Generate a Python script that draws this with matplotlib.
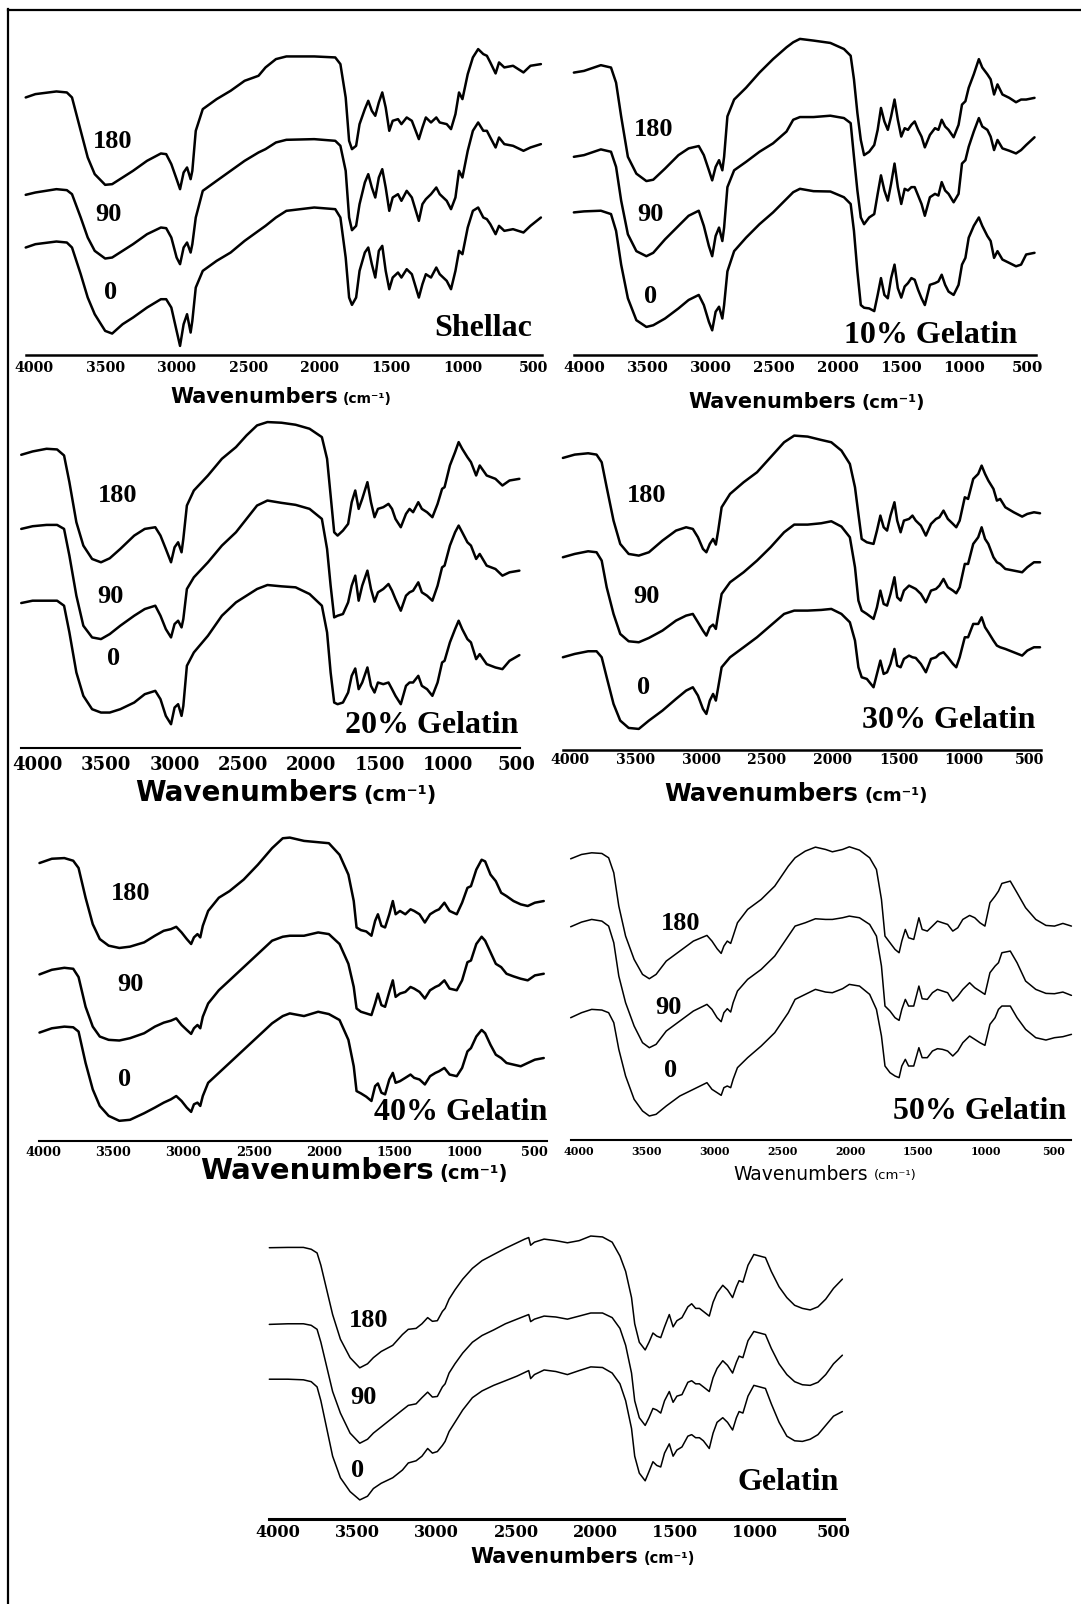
import matplotlib
matplotlib.use("Agg")
import matplotlib.pyplot as plt
from matplotlib.lines import Line2D
from matplotlib.offsetbox import TextArea, HPacker, AnnotationBbox

W, H = 1081, 1604
fig = plt.figure(figsize=(W / 100, H / 100), dpi=100)

# FTIR spectra, transmittance in arbitrary units (stacked traces, days 180 / 90 / 0)
wn_shellac = [4056, 3988, 3841, 3768, 3732, 3671, 3622, 3573, 3500, 3451,
              3378, 3305, 3207, 3110, 3073, 3037, 3000, 2976, 2951, 2927,
              2902, 2890, 2866, 2817, 2720, 2622, 2524, 2427, 2378, 2305,
              2232, 2037, 1890, 1854, 1817, 1793, 1773, 1744, 1720, 1683,
              1659, 1634, 1610, 1585, 1561, 1537, 1512, 1488, 1451, 1427,
              1390, 1354, 1305, 1280, 1256, 1220, 1183, 1159, 1110, 1080,
              1049, 1024, 1000, 963, 927, 890, 854, 829, 805, 768,
              744, 707, 646, 573, 524, 451]
shellac_180 = [772, 782, 790, 787, 772, 672, 592, 542, 510, 512,
               532, 552, 582, 604, 602, 572, 527, 497, 547, 562,
               527, 552, 672, 737, 767, 792, 822, 837, 862, 887,
               895, 895, 892, 872, 772, 642, 617, 627, 692, 737,
               762, 732, 717, 757, 787, 742, 672, 702, 707, 692,
               712, 702, 647, 682, 712, 697, 712, 697, 692, 677,
               722, 787, 767, 842, 892, 917, 902, 897, 877, 844,
               877, 862, 867, 847, 867, 872]
shellac_90 = [480, 487, 497, 494, 482, 412, 352, 312, 289, 292,
              312, 332, 362, 382, 380, 352, 292, 272, 322, 337,
              307, 332, 412, 492, 522, 552, 582, 607, 617, 637,
              645, 647, 642, 627, 552, 412, 374, 387, 452, 517,
              542, 502, 472, 532, 557, 502, 432, 472, 482, 462,
              492, 472, 402, 452, 467, 482, 502, 482, 462, 437,
              472, 552, 532, 612, 672, 697, 672, 672, 652, 622,
              652, 632, 627, 612, 622, 632]
shellac_0 = [322, 332, 340, 337, 322, 242, 172, 122, 72, 64,
             92, 112, 142, 167, 167, 142, 72, 27, 92, 122,
             67, 102, 202, 252, 282, 307, 342, 372, 387, 412,
             432, 442, 437, 412, 292, 172, 150, 172, 252, 307,
             322, 272, 232, 312, 327, 252, 197, 232, 247, 232,
             257, 242, 172, 212, 242, 232, 262, 242, 222, 197,
             252, 312, 302, 382, 432, 442, 412, 407, 392, 362,
             387, 372, 377, 367, 387, 412]

wn_g10 = [4080, 4000, 3867, 3787, 3747, 3707, 3654, 3587, 3508, 3454,
          3361, 3255, 3175, 3095, 3055, 3015, 2989, 2962, 2935, 2909,
          2895, 2869, 2816, 2722, 2616, 2509, 2403, 2350, 2297, 2190,
          2057, 1950, 1897, 1871, 1844, 1817, 1791, 1751, 1711, 1684,
          1658, 1631, 1604, 1578, 1551, 1525, 1498, 1471, 1445, 1418,
          1392, 1365, 1338, 1312, 1272, 1232, 1205, 1179, 1152, 1125,
          1085, 1046, 1019, 992, 966, 926, 886, 859, 819, 793,
          766, 739, 700, 646, 593, 553, 513, 447]
g10_180 = [838, 843, 860, 853, 808, 708, 588, 538, 516, 520,
           553, 593, 613, 620, 593, 548, 518, 558, 578, 548,
           588, 708, 758, 793, 838, 878, 913, 928, 938, 933,
           926, 908, 888, 818, 718, 638, 593, 603, 623, 668,
           733, 693, 668, 708, 758, 698, 648, 673, 668, 683,
           693, 668, 648, 616, 653, 673, 668, 698, 678, 668,
           646, 683, 743, 753, 793, 833, 878, 853, 833, 818,
           773, 803, 773, 763, 750, 758, 758, 763]
g10_90 = [588, 593, 610, 603, 558, 458, 358, 308, 293, 303,
          343, 383, 413, 428, 383, 323, 293, 353, 378, 338,
          378, 498, 548, 573, 603, 628, 663, 698, 706, 706,
          710, 703, 688, 588, 488, 408, 388, 408, 418, 478,
          533, 488, 458, 508, 568, 498, 448, 493, 488, 498,
          498, 473, 448, 413, 468, 478, 473, 513, 488, 478,
          453, 478, 568, 578, 618, 663, 703, 678, 668, 648,
          608, 638, 613, 606, 598, 608, 623, 646]
g10_0 = [423, 426, 428, 418, 368, 268, 168, 103, 83, 88,
         108, 138, 163, 178, 148, 98, 73, 128, 143, 108,
         148, 248, 308, 348, 388, 423, 463, 483, 493, 486,
         485, 468, 448, 368, 248, 148, 140, 138, 130, 178,
         228, 178, 168, 228, 268, 198, 170, 203, 213, 228,
         223, 193, 168, 148, 208, 213, 218, 238, 208, 188,
         178, 208, 268, 288, 348, 383, 408, 383, 353, 338,
         288, 308, 283, 273, 263, 268, 298, 303]

wn_g20 = [4121, 4038, 3936, 3859, 3808, 3769, 3718, 3667, 3603, 3538,
          3474, 3397, 3295, 3218, 3141, 3103, 3064, 3026, 3000, 2974,
          2949, 2936, 2910, 2859, 2756, 2654, 2551, 2474, 2397, 2321,
          2218, 2115, 2013, 1923, 1885, 1859, 1833, 1808, 1769, 1731,
          1705, 1679, 1654, 1628, 1590, 1564, 1538, 1513, 1474, 1436,
          1410, 1385, 1346, 1308, 1282, 1256, 1218, 1192, 1154, 1115,
          1077, 1044, 1026, 987, 949, 923, 897, 859, 833, 795,
          769, 718, 654, 603, 551, 479]
g20_180 = [877, 887, 895, 893, 875, 795, 675, 605, 565, 555,
           567, 595, 635, 655, 660, 635, 595, 555, 600, 615,
           585, 625, 725, 770, 815, 865, 900, 935, 965, 975,
           973, 967, 955, 930, 865, 755, 645, 635, 650, 670,
           735, 770, 715, 745, 795, 735, 690, 715, 720, 730,
           715, 685, 660, 700, 715, 705, 735, 715, 705, 690,
           730, 775, 780, 845, 885, 915, 895, 870, 855, 815,
           845, 815, 805, 785, 800, 805]
g20_90 = [655, 663, 667, 667, 655, 575, 455, 365, 330, 325,
          340, 365, 395, 415, 425, 395, 355, 330, 370, 380,
          360, 385, 475, 510, 555, 605, 645, 685, 725, 740,
          733, 727, 715, 685, 595, 485, 390, 395, 400, 435,
          485, 515, 440, 485, 530, 475, 437, 465, 475, 490,
          470, 445, 410, 455, 465, 470, 495, 465, 455, 440,
          485, 540, 545, 605, 645, 665, 645, 615, 605, 565,
          580, 545, 535, 515, 525, 530]
g20_0 = [433, 440, 440, 440, 425, 345, 225, 155, 115, 105,
         105, 115, 135, 160, 170, 145, 95, 70, 120, 130,
         95, 125, 245, 285, 335, 395, 435, 455, 475, 487,
         483, 480, 460, 425, 345, 225, 135, 130, 135, 165,
         215, 237, 175, 195, 240, 185, 165, 195, 190, 195,
         175, 155, 130, 185, 195, 195, 215, 185, 175, 155,
         195, 255, 260, 315, 355, 380, 355, 325, 315, 265,
         280, 250, 240, 235, 260, 277]

wn_g30 = [4051, 3961, 3859, 3795, 3756, 3718, 3666, 3615, 3551, 3474,
          3397, 3294, 3191, 3114, 3063, 3024, 2986, 2960, 2934, 2909,
          2888, 2870, 2844, 2780, 2677, 2575, 2472, 2369, 2292, 2190,
          2087, 2010, 1933, 1869, 1830, 1804, 1779, 1740, 1689, 1663,
          1637, 1612, 1586, 1560, 1530, 1509, 1483, 1458, 1419, 1393,
          1368, 1329, 1291, 1252, 1214, 1188, 1157, 1124, 1085, 1060,
          1034, 995, 970, 931, 893, 867, 841, 816, 777, 751,
          726, 687, 623, 559, 520, 469, 423]
g30_180 = [875, 885, 889, 885, 862, 787, 687, 617, 587, 582,
           592, 627, 657, 667, 662, 637, 602, 592, 617, 632,
           615, 657, 727, 767, 802, 832, 877, 922, 942, 939,
           929, 922, 897, 857, 787, 707, 632, 622, 617, 657,
           702, 667, 657, 702, 742, 687, 652, 687, 692, 702,
           687, 672, 642, 677, 692, 697, 717, 692, 677, 667,
           687, 757, 752, 812, 827, 852, 827, 807, 782, 747,
           752, 727, 712, 699, 707, 712, 709]
g30_90 = [577, 587, 595, 592, 567, 487, 407, 347, 325, 322,
          335, 357, 387, 402, 407, 382, 357, 342, 367, 375,
          362, 407, 467, 502, 532, 567, 607, 652, 675, 675,
          679, 685, 669, 637, 547, 447, 417, 407, 392, 427,
          477, 437, 432, 467, 517, 457, 447, 477, 492, 487,
          482, 467, 442, 477, 482, 492, 512, 487, 477, 469,
          487, 557, 557, 617, 637, 667, 632, 617, 577, 562,
          557, 542, 537, 532, 547, 562, 562]
g30_0 = [277, 287, 295, 295, 277, 217, 137, 87, 65, 62,
         87, 117, 152, 177, 187, 162, 122, 107, 147, 167,
         147, 187, 247, 277, 307, 337, 372, 407, 417, 417,
         419, 422, 407, 382, 327, 247, 217, 212, 187, 227,
         267, 227, 232, 257, 302, 252, 247, 272, 282, 277,
         275, 257, 232, 272, 277, 287, 292, 277, 257, 247,
         277, 337, 337, 377, 377, 397, 367, 352, 327, 312,
         307, 302, 292, 282, 297, 307, 307]

wn_g40 = [4025, 3937, 3848, 3785, 3747, 3697, 3646, 3596, 3533, 3457,
          3381, 3280, 3204, 3141, 3090, 3052, 3014, 2977, 2946, 2926,
          2901, 2881, 2863, 2825, 2749, 2673, 2572, 2471, 2370, 2294,
          2244, 2143, 2042, 1966, 1890, 1827, 1789, 1769, 1738, 1700,
          1663, 1637, 1617, 1592, 1566, 1536, 1511, 1491, 1460, 1422,
          1385, 1359, 1321, 1283, 1246, 1208, 1182, 1144, 1107, 1056,
          1018, 980, 955, 917, 879, 854, 816, 778, 740, 702,
          652, 601, 551, 500, 437]
g40_180 = [842, 855, 857, 849, 827, 737, 657, 612, 592, 585,
           589, 602, 622, 637, 642, 649, 632, 612, 597, 617,
           627, 617, 652, 697, 737, 757, 792, 837, 887, 917,
           919, 909, 905, 902, 867, 807, 727, 647, 639, 635,
           622, 667, 687, 652, 647, 687, 727, 687, 697, 687,
           702, 697, 687, 662, 687, 697, 702, 722, 697, 687,
           722, 767, 772, 822, 852, 847, 807, 787, 752, 742,
           727, 717, 712, 722, 727]
g40_90 = [505, 519, 525, 522, 497, 407, 347, 317, 307, 305,
          312, 327, 347, 359, 365, 372, 352, 337, 325, 342,
          352, 342, 377, 417, 457, 487, 527, 567, 607, 619,
          622, 622, 632, 627, 597, 537, 467, 402, 392, 387,
          382, 417, 447, 412, 407, 452, 487, 437, 447, 452,
          467, 462, 452, 432, 457, 467, 472, 487, 462, 457,
          487, 542, 547, 597, 619, 607, 572, 537, 527, 507,
          499, 492, 487, 502, 507]
g40_0 = [329, 342, 347, 345, 332, 237, 157, 107, 77, 62,
         65, 85, 102, 117, 127, 137, 122, 102, 89, 112,
         117, 107, 137, 177, 207, 237, 277, 317, 357, 379,
         387, 379, 392, 385, 367, 307, 227, 152, 145, 135,
         122, 167, 175, 147, 142, 187, 207, 177, 182, 192,
         202, 192, 187, 172, 197, 207, 212, 222, 202, 197,
         222, 272, 282, 317, 337, 327, 292, 262, 252, 237,
         232, 227, 237, 247, 252]

wn_g50 = [4060, 3980, 3905, 3830, 3780, 3742, 3705, 3655, 3592, 3530,
          3480, 3430, 3355, 3255, 3155, 3055, 3018, 2980, 2950, 2930,
          2905, 2880, 2862, 2830, 2755, 2655, 2555, 2455, 2405, 2330,
          2255, 2180, 2130, 2055, 2005, 1930, 1855, 1805, 1768, 1742,
          1705, 1668, 1638, 1618, 1592, 1568, 1530, 1492, 1468, 1430,
          1392, 1355, 1318, 1280, 1242, 1205, 1168, 1118, 1080, 1042,
          1005, 968, 930, 905, 880, 818, 768, 705, 630, 555,
          492, 430, 367]
g50_180 = [845, 858, 863, 861, 848, 803, 703, 613, 543, 498,
           485, 498, 538, 568, 598, 615, 598, 575, 561, 583,
           598, 591, 613, 653, 693, 723, 763, 823, 848, 868,
           880, 873, 866, 873, 881, 871, 848, 813, 723, 613,
           593, 573, 563, 598, 633, 608, 603, 668, 633, 628,
           643, 658, 653, 648, 628, 638, 663, 675, 668, 653,
           643, 713, 733, 748, 771, 778, 743, 698, 663, 645,
           643, 651, 643]
g50_90 = [641, 655, 663, 658, 643, 593, 493, 413, 343, 293,
          278, 288, 328, 358, 388, 408, 393, 368, 356, 383,
          395, 385, 413, 448, 483, 513, 553, 613, 643, 653,
          665, 663, 663, 668, 673, 668, 648, 613, 523, 403,
          388, 368, 360, 393, 423, 403, 403, 463, 425, 423,
          443, 453, 448, 443, 418, 433, 453, 473, 458, 448,
          438, 503, 523, 533, 563, 568, 533, 478, 453, 441,
          440, 445, 435]
g50_0 = [368, 383, 393, 391, 383, 353, 273, 193, 123, 88,
         73, 78, 103, 133, 153, 173, 153, 143, 135, 158,
         163, 158, 183, 218, 248, 283, 323, 383, 423, 438,
         453, 445, 443, 455, 468, 463, 438, 393, 313, 223,
         203, 193, 188, 223, 243, 223, 223, 278, 248, 248,
         268, 275, 273, 268, 253, 268, 293, 313, 303, 293,
         285, 348, 368, 393, 403, 403, 368, 333, 308, 301,
         308, 311, 318]

wn_gel = [4056, 3939, 3841, 3792, 3755, 3731, 3694, 3657, 3608, 3547,
          3486, 3437, 3400, 3351, 3278, 3217, 3180, 3131, 3094, 3058,
          3028, 2997, 2965, 2948, 2923, 2886, 2837, 2776, 2715, 2642,
          2568, 2495, 2446, 2421, 2409, 2385, 2324, 2250, 2177, 2103,
          2030, 1956, 1895, 1846, 1810, 1773, 1753, 1724, 1687, 1663,
          1638, 1614, 1589, 1565, 1535, 1511, 1487, 1455, 1418, 1394,
          1369, 1345, 1320, 1283, 1259, 1234, 1198, 1168, 1136, 1112,
          1095, 1071, 1039, 1002, 965, 929, 892, 843, 794, 745,
          696, 647, 598, 549, 500, 444]
gel_180 = [880, 881, 881, 875, 863, 823, 743, 663, 583, 523,
           490, 503, 523, 543, 563, 598, 615, 618, 633, 653,
           641, 643, 673, 683, 713, 743, 778, 813, 838, 858,
           878, 896, 908, 913, 888, 898, 908, 903, 896, 903,
           918, 915, 898, 853, 803, 718, 633, 573, 548, 573,
           603, 593, 588, 623, 663, 623, 643, 653, 688, 698,
           683, 683, 673, 658, 703, 733, 758, 743, 718, 753,
           773, 768, 823, 858, 853, 848, 803, 753, 718, 693,
           683, 678, 688, 713, 748, 778]
gel_90 = [631, 633, 633, 628, 615, 573, 493, 413, 343, 278,
          245, 258, 278, 298, 328, 353, 368, 373, 393, 411,
          395, 397, 428, 438, 473, 503, 538, 573, 595, 613,
          633, 648, 658, 663, 640, 648, 658, 655, 648, 658,
          668, 668, 653, 618, 563, 473, 383, 328, 303, 328,
          358, 353, 343, 383, 413, 378, 398, 403, 443, 448,
          438, 438, 428, 413, 458, 488, 513, 498, 473, 508,
          528, 523, 578, 608, 603, 598, 553, 503, 468, 445,
          435, 433, 443, 468, 503, 531]
gel_0 = [453, 453, 451, 445, 428, 383, 293, 203, 133, 88,
         61, 73, 98, 115, 133, 158, 181, 188, 203, 228,
         213, 218, 238, 251, 283, 313, 353, 393, 415, 433,
         448, 463, 475, 481, 455, 468, 483, 478, 468, 481,
         493, 491, 473, 438, 383, 293, 203, 148, 123, 153,
         185, 173, 168, 213, 243, 203, 223, 233, 268, 273,
         263, 263, 253, 228, 278, 313, 328, 313, 288, 328,
         348, 343, 398, 433, 428, 423, 373, 313, 268, 253,
         251, 258, 273, 303, 333, 348]

ages = ["180", "90", "0"]
tick_values = [4000, 3500, 3000, 2500, 2000, 1500, 1000, 500]
titles = ["Shellac", "10% Gelatin", "20% Gelatin", "30% Gelatin",
          "40% Gelatin", "50% Gelatin", "Gelatin"]

spectra = [
    (wn_shellac, [shellac_180, shellac_90, shellac_0]),
    (wn_g10, [g10_180, g10_90, g10_0]),
    (wn_g20, [g20_180, g20_90, g20_0]),
    (wn_g30, [g30_180, g30_90, g30_0]),
    (wn_g40, [g40_180, g40_90, g40_0]),
    (wn_g50, [g50_180, g50_90, g50_0]),
    (wn_gel, [gel_180, gel_90, gel_0]),
]

# panel placement in figure pixels (from top-left):
# x of the 4000 / 500 ticks, x limits, y of axis line, y of top, y range top
layout = [
    dict(x4000=33.7, x500=533.9, xlim=(4056, 446), yax=354.9, ytop=48.1, ymax=920,
         lw=1.8, spine=1.8, tfs=10.2, tick_y=370.2,
         title_xy=(532, 329), age_xy=[(112.5, 141), (108.4, 214.8), (110.5, 292.5)],
         xl_xy=(281, 397), xl_fs=15, xl_sub=10, xl_weight="bold"),
    dict(x4000=584.0, x500=1027.8, xlim=(4080, 439), yax=354.9, ytop=38.9, ymax=938,
         lw=1.8, spine=1.8, tfs=10.7, tick_y=370.2,
         title_xy=(1017.6, 335.4), age_xy=[(653.5, 129.9), (650.4, 214.8), (650.4, 296.6)],
         xl_xy=(807, 402), xl_fs=15, xl_sub=13, xl_weight="bold"),
    dict(x4000=37.8, x500=516.5, xlim=(4121, 474), yax=747.6, ytop=421.4, ymax=977,
         lw=1.8, spine=1.5, tfs=13, tick_y=767,
         title_xy=(518.5, 726), age_xy=[(117.6, 496), (110.5, 596.2), (113.5, 658.6)],
         xl_xy=(286, 792.6), xl_fs=20, xl_sub=15, xl_weight="bold"),
    dict(x4000=569.6, x500=1029.9, xlim=(4051, 418), yax=749.6, ytop=434.6, ymax=945,
         lw=1.8, spine=1.8, tfs=10.2, tick_y=761.9,
         title_xy=(1035, 720), age_xy=[(646.3, 496), (646.3, 596.2), (643.3, 687.3)],
         xl_xy=(796, 793.6), xl_fs=17.5, xl_sub=13, xl_weight="bold"),
    dict(x4000=43.0, x500=534.9, xlim=(4025, 412), yax=1141.3, ytop=836.6, ymax=922,
         lw=1.8, spine=1.5, tfs=9.3, tick_y=1153.6,
         title_xy=(547, 1112.7), age_xy=[(130.9, 893.8), (130.9, 984.9), (124.8, 1079)],
         xl_xy=(354, 1171), xl_fs=21, xl_sub=14, xl_weight="bold"),
    dict(x4000=578.8, x500=1053.4, xlim=(4060, 367), yax=1140.3, ytop=846.8, ymax=881,
         lw=1.1, spine=1.5, tfs=7.9, tick_y=1152.6,
         title_xy=(1066.7, 1111.7), age_xy=[(681, 923.5), (668.8, 1007.4), (670.9, 1070.8)],
         xl_xy=(825, 1174), xl_fs=13.5, xl_sub=9.5, xl_weight="normal"),
    dict(x4000=278.2, x500=833.5, xlim=(4061, 432), yax=1518.7, ytop=1235.4, ymax=920,
         lw=1.1, spine=2.2, tfs=11.6, tick_y=1534,
         title_xy=(838.6, 1482), age_xy=[(368.2, 1320.3), (363, 1397), (358, 1470.6)],
         xl_xy=(583, 1556.6), xl_fs=15, xl_sub=10.5, xl_weight="bold"),
]

SERIF = ["Liberation Serif", "DejaVu Serif"]

for title, (wn, traces), p in zip(titles, spectra, layout):
    s = (p["x500"] - p["x4000"]) / 3500.0
    left = p["x4000"] - (p["xlim"][0] - 4000) * s
    right = p["x500"] + (500 - p["xlim"][1]) * s
    ax = fig.add_axes([left / W, 1 - p["yax"] / H,
                       (right - left) / W, (p["yax"] - p["ytop"]) / H])
    for tr in traces:
        ax.plot(wn, tr, color="black", lw=p["lw"], solid_joinstyle="round",
                solid_capstyle="round", clip_on=False)
    ax.set_xlim(*p["xlim"])
    ax.set_ylim(0, p["ymax"])
    for side in ("top", "right", "left"):
        ax.spines[side].set_visible(False)
    ax.spines["bottom"].set_linewidth(p["spine"])
    ax.set_yticks([])
    ax.set_xticks(tick_values)
    ax.set_xticklabels([str(t) for t in tick_values])
    fpx = p["tfs"] * 100 / 72
    pad = ((p["tick_y"] - p["yax"]) - 0.62 * fpx) * 72 / 100
    ax.tick_params(axis="x", length=0, pad=pad)
    for lab in ax.get_xticklabels():
        lab.set_fontfamily("DejaVu Serif")
        lab.set_fontweight("bold")
        lab.set_fontsize(p["tfs"])
    ax.patch.set_visible(False)

    # sample name
    tx, ty = p["title_xy"]
    fig.text(tx / W, 1 - ty / H, title, ha="right", va="center",
             fontsize=23, fontweight="bold", family=SERIF)
    # storage time of each trace
    for age, (ax_, ay_) in zip(ages, p["age_xy"]):
        fig.text(ax_ / W, 1 - ay_ / H, age, ha="center", va="center",
                 fontsize=19, fontweight="bold", family=SERIF)
    # axis title
    main = TextArea("Wavenumbers", textprops=dict(fontsize=p["xl_fs"], fontweight=p["xl_weight"],
                                                  family="DejaVu Sans"))
    unit = TextArea("(cm\u207b\u00b9)", textprops=dict(fontsize=p["xl_sub"], fontweight=p["xl_weight"],
                                                     family="DejaVu Sans"))
    box = HPacker(children=[main, unit], align="baseline", pad=0, sep=4)
    lx, ly = p["xl_xy"]
    fig.add_artist(AnnotationBbox(box, (lx, H - ly), xycoords="figure pixels",
                                  frameon=False, box_alignment=(0.5, 0.5)))

# frame lines along the top and left edges
fig.add_artist(Line2D([7.7 / W, 1.0], [1 - 10.2 / H] * 2, transform=fig.transFigure,
                      color="black", lw=1.6))
fig.add_artist(Line2D([7.7 / W] * 2, [1 - 9.4 / H, 0.0], transform=fig.transFigure,
                      color="black", lw=1.6))

fig.savefig("out.png", dpi=100, facecolor="white")
